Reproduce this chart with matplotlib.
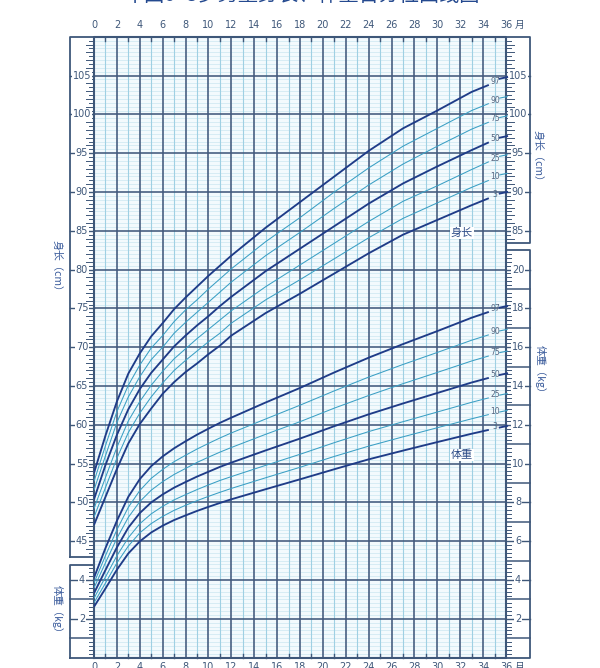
import numpy as np
import matplotlib
matplotlib.use("Agg")
import matplotlib.pyplot as plt

plt.rcParams['font.family'] = ['Noto Sans CJK SC', 'DejaVu Sans']

# ---------------- data ----------------
title = "中国0~3岁男童身长、体重百分位曲线图"
percentiles = ["3", "10", "25", "50", "75", "90", "97"]
dark_pcts = ["3", "50", "97"]
ages = [0, 1, 2, 3, 4, 5, 6, 7, 8, 9, 10, 11, 12, 15, 18, 21, 24, 27, 30, 33, 34.5]

length_p3  = [47.1, 50.7, 54.3, 57.6, 60.1, 62.1, 64.0, 65.5, 66.8, 67.9, 69.1, 70.2, 71.5, 74.4, 76.9, 79.5, 82.1, 84.5, 86.4, 88.3, 89.2]
length_p10 = [48.1, 51.9, 55.7, 59.0, 61.5, 63.6, 65.4, 67.0, 68.3, 69.5, 70.7, 71.8, 73.1, 76.1, 78.7, 81.4, 84.1, 86.6, 88.6, 90.6, 91.5]
length_p25 = [49.2, 53.2, 57.1, 60.5, 63.0, 65.1, 66.9, 68.5, 69.8, 71.1, 72.3, 73.5, 74.7, 77.8, 80.6, 83.4, 86.2, 88.8, 90.8, 92.9, 93.9]
length_p50 = [50.4, 54.8, 58.7, 62.0, 64.6, 66.7, 68.4, 70.1, 71.5, 72.8, 74.0, 75.3, 76.5, 79.8, 82.7, 85.6, 88.5, 91.1, 93.3, 95.4, 96.4]
length_p75 = [51.6, 56.0, 60.3, 63.6, 66.2, 68.4, 70.0, 71.8, 73.2, 74.5, 75.8, 77.1, 78.4, 81.8, 84.8, 87.9, 90.9, 93.6, 95.9, 98.1, 99.0]
length_p90 = [52.7, 57.3, 61.7, 65.1, 67.7, 69.9, 71.5, 73.3, 74.8, 76.1, 77.5, 78.8, 80.1, 83.6, 86.7, 90.0, 93.1, 95.9, 98.2, 100.5, 101.4]
length_p97 = [53.8, 58.6, 63.0, 66.6, 69.2, 71.4, 73.1, 74.9, 76.4, 77.8, 79.2, 80.5, 81.8, 85.4, 88.7, 92.0, 95.3, 98.2, 100.5, 102.9, 103.8]
length_36m = [90.0, 92.4, 94.8, 97.2, 99.8, 102.3, 104.8]

weight_p3  = [2.62, 3.56, 4.53, 5.37, 5.99, 6.45, 6.80, 7.09, 7.33, 7.56, 7.77, 7.97, 8.16, 8.68, 9.19, 9.71, 10.22, 10.67, 11.11, 11.54, 11.74]
weight_p10 = [2.83, 3.84, 4.88, 5.75, 6.43, 6.91, 7.28, 7.59, 7.85, 8.09, 8.31, 8.52, 8.72, 9.27, 9.81, 10.37, 10.90, 11.38, 11.85, 12.31, 12.53]
weight_p25 = [3.06, 4.15, 5.25, 6.18, 6.90, 7.41, 7.80, 8.13, 8.40, 8.66, 8.90, 9.13, 9.33, 9.91, 10.48, 11.08, 11.65, 12.16, 12.66, 13.16, 13.39]
weight_p50 = [3.32, 4.51, 5.68, 6.70, 7.45, 8.00, 8.41, 8.76, 9.05, 9.33, 9.58, 9.83, 10.05, 10.68, 11.29, 11.93, 12.54, 13.10, 13.64, 14.18, 14.42]
weight_p75 = [3.59, 4.89, 6.15, 7.23, 8.04, 8.63, 9.07, 9.44, 9.75, 10.06, 10.33, 10.59, 10.83, 11.51, 12.16, 12.86, 13.51, 14.12, 14.70, 15.29, 15.55]
weight_p90 = [3.85, 5.25, 6.59, 7.75, 8.61, 9.24, 9.70, 10.10, 10.43, 10.75, 11.04, 11.32, 11.58, 12.30, 13.01, 13.75, 14.46, 15.11, 15.73, 16.36, 16.64]
weight_p97 = [4.12, 5.64, 7.05, 8.29, 9.20, 9.87, 10.37, 10.79, 11.15, 11.49, 11.80, 12.10, 12.37, 13.15, 13.90, 14.70, 15.46, 16.16, 16.83, 17.52, 17.82]
weight_36m = [11.94, 12.74, 13.61, 14.65, 15.80, 16.92, 18.12]

month_ticks = list(range(0, 37, 2))
length_labels_left = list(range(45, 106, 5))
length_labels_right = list(range(85, 106, 5))
weight_labels_left = [2, 4]
weight_labels_right = list(range(2, 21, 2))

length_series = [length_p3, length_p10, length_p25, length_p50, length_p75, length_p90, length_p97]
weight_series = [weight_p3, weight_p10, weight_p25, weight_p50, weight_p75, weight_p90, weight_p97]

# ---------------- style ----------------
W, H = 600, 668
FRAME = "#3e5779"
DARK_GRID = "#42597c"
LIGHT_H = "#d2eaf3"
LIGHT_V = "#9fd0e3"
BG = "#f3fafd"
DARK_CURVE = "#1f3c88"
LIGHT_CURVE = "#3a9fc4"
TXT = "#3e5779"

fig = plt.figure(figsize=(W / 100, H / 100), dpi=100)
x0, x1 = 94, 506
ytop, ybot = 36.8, 657.6
ax = fig.add_axes([x0 / W, (H - ybot) / H, (x1 - x0) / W, (ybot - ytop) / H])
ax.set_xlim(0, 36)
ax.set_ylim(0, 32)
ax.set_facecolor(BG)
for s in ax.spines.values():
    s.set_visible(False)
ax.set_xticks([])
ax.set_yticks([])

ax2 = ax.twinx()
ax2.set_ylim(30, 110)
ax2.set_yticks([])
for s in ax2.spines.values():
    s.set_visible(False)

PXM = (x1 - x0) / 36.0     # px per month
PXW = (ybot - ytop) / 32.0  # px per kg
SW = 24 / PXM              # strip width in months

# light horizontal grid
for v in np.arange(0.2, 32, 0.2):
    if abs(v / 2 - round(v / 2)) > 1e-6:
        ax.axhline(v, color=LIGHT_H, lw=0.6, zorder=1)
# odd-month vertical
for m in range(1, 36, 2):
    ax.axvline(m, color=LIGHT_V, lw=0.8, zorder=1.2)
# dark grid
for v in range(2, 32, 2):
    ax.axhline(v, color=DARK_GRID, lw=1.15, zorder=1.5)
for m in range(2, 36, 2):
    ax.axvline(m, color=DARK_GRID, lw=1.15, zorder=1.5)

# odd-month ticks on frame
for m in range(1, 36, 2):
    ax.plot([m, m], [32, 32 - 4 / PXW], color=FRAME, lw=1.0, zorder=3, clip_on=False)
    ax.plot([m, m], [0, 4 / PXW], color=FRAME, lw=1.0, zorder=3, clip_on=False)

# frame of main area
ax.plot([0, 36, 36, 0, 0], [0, 0, 32, 32, 0], color=FRAME, lw=1.5, zorder=4, clip_on=False)

def box(xa, xb, ya, yb, a):
    a.plot([xa, xb, xb, xa, xa], [ya, ya, yb, yb, ya], color=FRAME, lw=1.3, clip_on=False, zorder=4)

# ---- strips ----
box(-SW, 0, 5.2, 32, ax)
box(36, 36 + SW, 21.35, 32, ax)
box(-SW, 0, 0, 4.75, ax)
box(36, 36 + SW, 0, 21.0, ax)

def length_ticks(lo, hi, side):
    for L in np.arange(lo, hi + 1e-6, 0.5):
        if abs(L % 5) < 1e-6:
            continue
        ln = (8 if abs(L - round(L)) < 1e-6 else 5) / PXM
        if side == "left":
            ax2.plot([-ln, 0], [L, L], color=FRAME, lw=0.7, clip_on=False, zorder=4)
        else:
            ax2.plot([36, 36 + ln], [L, L], color=FRAME, lw=0.7, clip_on=False, zorder=4)

length_ticks(43.5, 109.5, "left")
length_ticks(84.0, 109.5, "right")

def weight_ticks(hi, side):
    for v in np.arange(0.2, hi, 0.2):
        if abs(v - round(v)) < 1e-6:
            continue
        ln = 5 / PXM
        if side == "left":
            ax.plot([-ln, 0], [v, v], color=FRAME, lw=0.7, clip_on=False, zorder=4)
        else:
            ax.plot([36, 36 + ln], [v, v], color=FRAME, lw=0.7, clip_on=False, zorder=4)
    for k in range(1, int(hi) + 1, 2):
        if k < hi:
            if side == "left":
                ax.plot([-SW, 0], [k, k], color=FRAME, lw=1.1, clip_on=False, zorder=4)
            else:
                ax.plot([36, 36 + SW], [k, k], color=FRAME, lw=1.1, clip_on=False, zorder=4)

weight_ticks(4.75, "left")
weight_ticks(21.0, "right")

lab_kw = dict(fontsize=7, color=TXT, ha="center", va="center", zorder=6, clip_on=False,
              family=["DejaVu Sans"],
              bbox=dict(boxstyle="square,pad=0.08", fc="white", ec="none"))

for L in length_labels_left:
    ax2.plot([-SW, 0], [L, L], color=FRAME, lw=1.0, clip_on=False, zorder=4)
    ax2.text(-SW / 2, L, str(L), **lab_kw)
for L in length_labels_right:
    ax2.plot([36, 36 + SW], [L, L], color=FRAME, lw=1.0, clip_on=False, zorder=4)
    ax2.text(36 + SW / 2, L, str(L), **lab_kw)
for v in weight_labels_left:
    ax.plot([-SW, 0], [v, v], color=FRAME, lw=1.0, clip_on=False, zorder=4)
    ax.text(-SW / 2, v, str(v), **lab_kw)
for v in weight_labels_right:
    ax.plot([36, 36 + SW], [v, v], color=FRAME, lw=1.0, clip_on=False, zorder=4)
    ax.text(36 + SW / 2, v, str(v), **lab_kw)

# month labels top and bottom (bottom row is cut by the image edge as in the reference)
for m in month_ticks:
    for yy in (32 + 12 / PXW, -9.5 / PXW):
        ax.text(m, yy, str(m), fontsize=7, color=TXT, ha="center", va="center",
                clip_on=False, family=["DejaVu Sans"])
for yy in (32 + 12 / PXW, -9.5 / PXW):
    ax.text(37.15, yy, "月", fontsize=7, color=TXT, ha="center", va="center", clip_on=False)

# ---- curves ----
for p, ys in zip(percentiles, length_series):
    dark = p in dark_pcts
    ax2.plot(ages, ys, color=DARK_CURVE if dark else LIGHT_CURVE,
             lw=1.35 if dark else 0.75, zorder=5, solid_capstyle="butt")
for p, ys in zip(percentiles, weight_series):
    dark = p in dark_pcts
    ax.plot(ages, ys, color=DARK_CURVE if dark else LIGHT_CURVE,
            lw=1.35 if dark else 0.75, zorder=5, solid_capstyle="butt")

for p, ys, v36 in zip(percentiles, length_series, length_36m):
    dark = p in dark_pcts
    ax2.plot([35.45, 36.1], [v36 - 0.2, v36], color=DARK_CURVE if dark else LIGHT_CURVE,
             lw=1.35 if dark else 0.8, zorder=6, clip_on=False)
    ax2.text(35.05, ys[-1] + 0.45, p, fontsize=5.5, color="#55657f", ha="center", va="center",
             zorder=6, family=["DejaVu Sans"])
for p, ys, v36 in zip(percentiles, weight_series, weight_36m):
    dark = p in dark_pcts
    ax.plot([35.45, 36.1], [v36 - 0.08, v36], color=DARK_CURVE if dark else LIGHT_CURVE,
            lw=1.35 if dark else 0.8, zorder=6, clip_on=False)
    ax.text(35.05, ys[-1] + 0.18, p, fontsize=5.5, color="#55657f", ha="center", va="center",
            zorder=6, family=["DejaVu Sans"])

inlab = dict(fontsize=8, color="#2c4a86", ha="center", va="center", zorder=7,
             bbox=dict(boxstyle="square,pad=0.1", fc="white", ec="none"))
ax.text((462 - x0) / PXM, (ybot - 233) / PXW, "身长", **inlab)
ax.text((462 - x0) / PXM, (ybot - 455) / PXW, "体重", **inlab)

def vlabel(px, py, s):
    fig.text(px / W, 1 - py / H, s, fontsize=7.5, color="#3b5c9c", rotation=-90,
             ha="center", va="center")

vlabel(57, 268, "身长（cm）")
vlabel(57, 612, "体重（kg）")
vlabel(538, 158, "身长（cm）")
vlabel(540, 372, "体重（kg）")

fig.text(0.503, 1.0 + 4.5 / H, title, fontsize=14.5, color="#24498f", ha="center", va="center")

fig.savefig("out.png", dpi=100)
